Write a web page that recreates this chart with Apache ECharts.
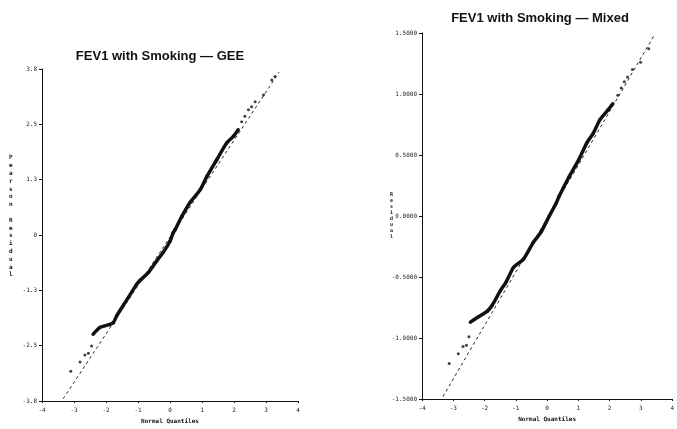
<!DOCTYPE html>
<html>
<head>
<meta charset="utf-8">
<script src="https://cdn.jsdelivr.net/npm/echarts@6/dist/echarts.min.js"></script>
<style>
  html, body { margin: 0; padding: 0; background: #fff; }
  #chart { width: 677px; height: 429px; }
</style>
</head>
<body>
<div id="chart"></div>
<script>
// Normal Q-Q plots of residuals for FEV1 with smoking: GEE fit (left), mixed model fit (right)

// GEE panel: dense body of the Q-Q curve
const geeQuant = [-2.40, -2.19, -1.88, -1.77, -1.67, -1.46, -1.30, -1.04, -0.94, -0.68, -0.42, -0.21, 0.00, 0.10, 0.16, 0.37, 0.63, 0.94, 1.15, 1.46, 1.77, 1.98, 2.13];
const geeResid = [-2.24, -2.09, -2.02, -1.98, -1.83, -1.59, -1.41, -1.11, -1.03, -0.85, -0.59, -0.39, -0.14, 0.05, 0.12, 0.42, 0.74, 1.02, 1.32, 1.70, 2.08, 2.23, 2.38];
// GEE panel: isolated points in the tails
const geeTailQuant = [-3.10, -2.81, -2.66, -2.55, -2.45, 2.24, 2.34, 2.45, 2.55, 2.66, 2.92, 3.18, 3.28];
const geeTailResid = [-3.08, -2.87, -2.71, -2.67, -2.51, 2.56, 2.68, 2.83, 2.90, 3.01, 3.16, 3.50, 3.58];
// GEE panel: reference line end points
const geeRefQuant = [-3.34, 3.41];
const geeRefResid = [-3.70, 3.68];

// Mixed panel: dense body of the Q-Q curve
const mixQuant = [-2.45, -2.22, -1.91, -1.75, -1.49, -1.33, -1.07, -0.76, -0.45, -0.19, 0.07, 0.28, 0.38, 0.70, 1.01, 1.27, 1.48, 1.69, 1.95, 2.10];
const mixResid = [-0.87, -0.83, -0.78, -0.73, -0.61, -0.55, -0.42, -0.355, -0.22, -0.13, 0.00, 0.10, 0.16, 0.32, 0.46, 0.60, 0.68, 0.79, 0.87, 0.92];
// Mixed panel: isolated points in the tails
const mixTailQuant = [-3.13, -2.84, -2.69, -2.58, -2.50, 2.26, 2.37, 2.47, 2.57, 2.73, 2.99, 3.25];
const mixTailResid = [-1.21, -1.13, -1.07, -1.06, -0.99, 0.99, 1.05, 1.10, 1.14, 1.20, 1.26, 1.37];
// Mixed panel: reference line end points
const mixRefQuant = [-3.33, 3.41];
const mixRefResid = [-1.48, 1.475];

// Axis ticks
const quantTicks = { min: -4, max: 4, interval: 1 };
const geeTicks = { min: -3.75, max: 3.75, interval: 1.25 };
const mixTicks = { min: -1.5, max: 1.5, interval: 0.5 };

const zip = (a, b) => a.map((v, i) => [v, b[i]]);

const ink = '#111';
const tickFont = { fontFamily: 'DejaVu Sans Mono', fontSize: 6, color: '#222' };

function xAxisFor(gridIndex) {
  return {
    gridIndex, type: 'value', ...quantTicks,
    name: 'Normal Quantiles', nameLocation: 'middle', nameGap: 17,
    nameTextStyle: { fontFamily: 'DejaVu Sans Mono', fontSize: 6, fontWeight: 'bold', color: ink },
    axisLine: { onZero: false, lineStyle: { color: ink, width: 1 } },
    axisTick: { show: true, length: 2, lineStyle: { color: ink } },
    axisLabel: { ...tickFont, margin: 6, formatter: v => String(v) },
    splitLine: { show: false }
  };
}

function yAxisFor(gridIndex, ticks, fmt) {
  return {
    gridIndex, type: 'value', ...ticks,
    axisLine: { show: true, onZero: false, lineStyle: { color: ink, width: 1 } },
    axisTick: { show: true, length: 3, lineStyle: { color: ink } },
    axisLabel: { ...tickFont, margin: 5, formatter: fmt },
    splitLine: { show: false }
  };
}

function panelSeries(idx, q, r, tq, tr, rq, rr) {
  return [
    {
      type: 'line', xAxisIndex: idx, yAxisIndex: idx,
      data: zip(rq, rr), symbol: 'none', silent: true,
      lineStyle: { color: ink, width: 0.9, type: [3, 3] }, z: 1
    },
    {
      type: 'line', xAxisIndex: idx, yAxisIndex: idx,
      data: zip(q, r), symbol: 'circle', symbolSize: 3.5, smooth: 0.2,
      itemStyle: { color: ink }, lineStyle: { color: ink, width: 3.5 }, z: 3
    },
    {
      type: 'scatter', xAxisIndex: idx, yAxisIndex: idx,
      data: zip(tq, tr), symbol: 'circle', symbolSize: 3,
      itemStyle: { color: ink }, z: 3
    }
  ];
}

const chart = echarts.init(document.getElementById('chart'), null, { renderer: 'canvas' });

chart.setOption({
  animation: false,
  backgroundColor: '#fff',
  title: [
    { text: 'FEV1 with Smoking — GEE', left: 155, top: 45, textAlign: 'center',
      textStyle: { fontFamily: 'Liberation Sans', fontSize: 13, fontWeight: 'bold', color: ink } },
    { text: 'FEV1 with Smoking — Mixed', left: 535, top: 7, textAlign: 'center',
      textStyle: { fontFamily: 'Liberation Sans', fontSize: 13, fontWeight: 'bold', color: ink } }
  ],
  grid: [
    { left: 42, right: 379, top: 69, bottom: 27 },
    { left: 422, right: -2, top: 33, bottom: 30 }
  ],
  xAxis: [xAxisFor(0), xAxisFor(1)],
  yAxis: [
    yAxisFor(0, geeTicks, v => (v === 0 ? '0' : v.toFixed(1))),
    yAxisFor(1, mixTicks, v => v.toFixed(4))
  ],
  graphic: [
    { type: 'text', left: 9, top: 154,
      style: { text: 'Pearson Residual'.split('').join('\n'), fontFamily: 'DejaVu Sans Mono',
               fontSize: 6, fontWeight: 'bold', lineHeight: 7.8, fill: ink, align: 'center' } },
    { type: 'text', left: 390, top: 192,
      style: { text: 'Residual'.split('').join('\n'), fontFamily: 'DejaVu Sans Mono',
               fontSize: 5, fontWeight: 'bold', lineHeight: 6, fill: ink, align: 'center' } }
  ],
  series: [
    ...panelSeries(0, geeQuant, geeResid, geeTailQuant, geeTailResid, geeRefQuant, geeRefResid),
    ...panelSeries(1, mixQuant, mixResid, mixTailQuant, mixTailResid, mixRefQuant, mixRefResid)
  ]
});
</script>
</body>
</html>
